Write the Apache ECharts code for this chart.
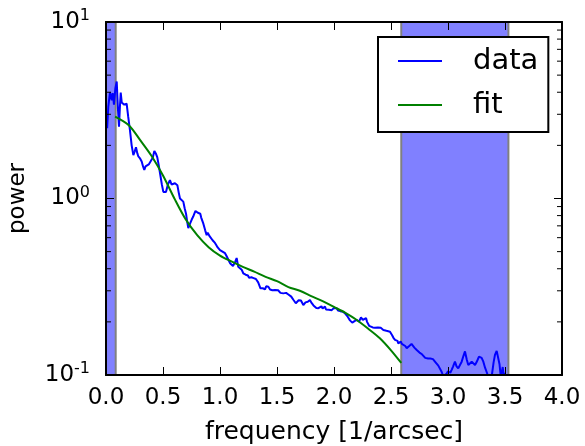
<!DOCTYPE html>
<html>
<head>
<meta charset="utf-8">
<script src="https://cdn.jsdelivr.net/npm/echarts@6/dist/echarts.min.js"></script>
<style>html,body{margin:0;padding:0;background:#fff;}#c{width:585px;height:446px;}</style>
</head>
<body>
<div id="c"></div>
<script>
// ---- data ----
var freq = [0.01,0.02,0.035,0.05,0.059,0.07,0.082,0.094,0.105,0.114,0.122,0.129,0.138,0.146,0.16,0.181,0.195,0.21,0.225,0.24,0.252,0.263,0.275,0.284,0.3,0.313,0.325,0.336,0.347,0.357,0.375,0.392,0.41,0.424,0.437,0.45,0.462,0.474,0.49,0.503,0.515,0.526,0.543,0.561,0.575,0.59,0.605,0.626,0.638,0.649,0.665,0.678,0.69,0.702,0.712,0.722,0.737,0.752,0.765,0.775,0.785,0.795,0.806,0.818,0.827,0.835,0.845,0.854,0.87,0.883,0.892,0.9,0.91,0.918,0.927,0.935,0.945,0.956,0.967,0.978,0.99,1.0,1.011,1.022,1.033,1.044,1.055,1.066,1.077,1.088,1.097,1.105,1.114,1.123,1.135,1.146,1.16,1.175,1.19,1.204,1.215,1.225,1.235,1.245,1.255,1.263,1.275,1.285,1.295,1.305,1.315,1.322,1.335,1.345,1.355,1.366,1.375,1.385,1.395,1.405,1.415,1.424,1.432,1.439,1.45,1.46,1.47,1.482,1.49,1.497,1.51,1.52,1.53,1.545,1.555,1.57,1.58,1.59,1.6,1.614,1.625,1.635,1.645,1.658,1.665,1.673,1.68,1.69,1.702,1.71,1.72,1.731,1.74,1.75,1.76,1.77,1.78,1.789,1.8,1.81,1.82,1.835,1.845,1.855,1.863,1.87,1.88,1.89,1.9,1.91,1.921,1.93,1.936,1.945,1.955,1.965,1.98,1.99,2.0,2.01,2.023,2.035,2.045,2.055,2.067,2.08,2.09,2.1,2.111,2.12,2.13,2.14,2.15,2.16,2.17,2.18,2.19,2.2,2.21,2.22,2.228,2.237,2.245,2.253,2.26,2.27,2.281,2.29,2.3,2.308,2.316,2.325,2.34,2.35,2.36,2.374,2.385,2.4,2.41,2.42,2.433,2.445,2.46,2.475,2.491,2.5,2.51,2.52,2.535,2.545,2.55,2.557,2.564,2.575,2.585,2.595,2.608,2.625,2.638,2.65,2.66,2.67,2.68,2.696,2.705,2.715,2.728,2.74,2.75,2.76,2.772,2.784,2.8,2.813,2.825,2.835,2.845,2.857,2.868,2.88,2.891,2.901,2.915,2.93,2.945,2.959,2.975,2.989,3.0,3.01,3.02,3.032,3.045,3.061,3.075,3.09,3.105,3.12,3.135,3.149,3.165,3.178,3.195,3.208,3.222,3.237,3.25,3.26,3.272,3.281,3.295,3.31,3.325,3.339,3.355,3.368,3.385,3.4,3.412,3.427,3.442,3.452,3.462,3.472,3.48,3.49,3.5];
var power = [2.5,3.3,4.0,3.6,3.95,3.4,4.2,4.6,3.2,2.55,3.3,3.98,3.5,3.54,3.4,3.45,2.9,2.44,2.0,1.76,1.85,1.95,1.8,1.73,1.68,1.62,1.52,1.45,1.52,1.55,1.56,1.58,1.7,1.86,1.8,1.71,1.55,1.39,1.2,1.09,1.07,1.09,1.2,1.27,1.2,1.19,1.22,1.19,1.08,1.0,0.98,0.96,0.88,0.82,0.74,0.68,0.72,0.76,0.79,0.82,0.85,0.86,0.83,0.81,0.82,0.78,0.76,0.72,0.66,0.62,0.64,0.63,0.61,0.62,0.6,0.58,0.575,0.56,0.545,0.53,0.525,0.51,0.515,0.5,0.495,0.49,0.475,0.46,0.445,0.43,0.435,0.42,0.415,0.41,0.44,0.46,0.41,0.40,0.395,0.377,0.385,0.37,0.362,0.366,0.355,0.353,0.358,0.35,0.354,0.348,0.35,0.345,0.335,0.33,0.31,0.303,0.31,0.312,0.306,0.318,0.31,0.316,0.308,0.305,0.298,0.302,0.296,0.303,0.297,0.296,0.302,0.298,0.292,0.296,0.29,0.296,0.292,0.29,0.286,0.284,0.278,0.275,0.266,0.26,0.255,0.25,0.258,0.265,0.272,0.264,0.258,0.249,0.254,0.258,0.262,0.26,0.266,0.266,0.258,0.252,0.248,0.245,0.24,0.236,0.239,0.244,0.24,0.245,0.238,0.244,0.244,0.235,0.232,0.238,0.234,0.228,0.233,0.238,0.24,0.236,0.239,0.232,0.235,0.23,0.233,0.228,0.226,0.222,0.219,0.214,0.21,0.204,0.2,0.198,0.196,0.202,0.2,0.205,0.206,0.201,0.205,0.212,0.215,0.205,0.2,0.206,0.21,0.2,0.195,0.19,0.188,0.192,0.186,0.189,0.185,0.184,0.186,0.183,0.185,0.181,0.18,0.182,0.178,0.179,0.176,0.172,0.168,0.163,0.158,0.16,0.162,0.156,0.151,0.153,0.155,0.15,0.148,0.146,0.142,0.144,0.146,0.149,0.15,0.148,0.143,0.14,0.138,0.136,0.134,0.133,0.131,0.13,0.125,0.122,0.124,0.126,0.124,0.127,0.123,0.12,0.118,0.116,0.113,0.111,0.104,0.098,0.097,0.102,0.105,0.104,0.103,0.107,0.112,0.119,0.112,0.109,0.114,0.119,0.128,0.136,0.122,0.114,0.116,0.119,0.116,0.114,0.118,0.122,0.127,0.13,0.125,0.119,0.11,0.104,0.097,0.096,0.1,0.118,0.13,0.137,0.136,0.115,0.099,0.104,0.111,0.097,0.103];
var fitFreq = [0.08,0.2,0.3,0.4,0.5,0.6,0.7,0.8,0.9,1.0,1.1,1.2,1.3,1.4,1.5,1.6,1.7,1.8,1.9,2.0,2.1,2.2,2.3,2.4,2.5,2.59];
var fitPower = [2.91,2.6,2.14,1.74,1.35,1.0,0.76,0.62,0.53,0.475,0.44,0.41,0.385,0.36,0.34,0.315,0.30,0.28,0.262,0.243,0.225,0.205,0.183,0.162,0.138,0.117];
var spans = [[0, 0.085], [2.59, 3.53]];
var yMinorTicks = [0.2,0.3,0.4,0.5,0.6,0.7,0.8,0.9,2,3,4,5,6,7,8,9];

var FONT = 'DejaVu Sans';
var chart = echarts.init(document.getElementById('c'), null, {renderer: 'canvas'});

function zip(a, b) { return a.map(function (v, i) { return [v, b[i]]; }); }

var axisLineStyle = {show: true, onZero: false, lineStyle: {color: '#000', width: 2}};
var tickStyle = {show: true, inside: true, length: 8, lineStyle: {color: '#000', width: 1}};

var option = {
  animation: false,
  backgroundColor: '#fff',
  grid: {left: 106, top: 22, width: 456, height: 353, containLabel: false, outerBoundsMode: 'none'},
  legend: {
    data: [{name: 'data', icon: 'rect'}, {name: 'fit', icon: 'rect'}],
    orient: 'vertical',
    left: 378, top: 37,
    padding: [7, 10, 10, 20],
    itemGap: 10,
    itemWidth: 44, itemHeight: 2,
    backgroundColor: '#fff',
    borderColor: '#000', borderWidth: 2, borderRadius: 0,
    textStyle: {fontFamily: FONT, fontSize: 29, color: '#000', lineHeight: 34, padding: [0, 0, 0, 26]}
  },
  xAxis: [{
    type: 'value', min: 0, max: 4, interval: 0.5, position: 'bottom', z: 10,
    axisLine: axisLineStyle, axisTick: tickStyle, splitLine: {show: false},
    axisLabel: {fontFamily: FONT, fontSize: 23, color: '#000', margin: 12,
      formatter: function (v) { return v.toFixed(1); }},
    name: 'frequency [1/arcsec]', nameLocation: 'middle', nameGap: 45,
    nameTextStyle: {fontFamily: FONT, fontSize: 25, color: '#000'}
  }, {
    type: 'value', min: 0, max: 4, interval: 0.5, position: 'top', z: 10,
    axisLine: axisLineStyle, axisTick: tickStyle, splitLine: {show: false},
    axisLabel: {show: false}
  }],
  yAxis: [{
    type: 'log', min: 0.1, max: 10, logBase: 10, position: 'left', z: 10,
    axisLine: axisLineStyle, axisTick: tickStyle, splitLine: {show: false},
    axisLabel: {margin: 16, color: '#000',
      formatter: function (v) {
        var e = Math.round(Math.log(v) / Math.LN10);
        return '{b|10}{s|' + e + '}';
      },
      rich: {
        b: {fontFamily: FONT, fontSize: 23, color: '#000'},
        s: {fontFamily: FONT, fontSize: 16, color: '#000', padding: [0, 0, 12, 0]}
      }
    },
    name: 'power', nameLocation: 'middle', nameGap: 76,
    nameTextStyle: {fontFamily: FONT, fontSize: 23, color: '#000'}
  }, {
    type: 'log', min: 0.1, max: 10, logBase: 10, position: 'right', z: 10,
    axisLine: axisLineStyle, axisTick: tickStyle, splitLine: {show: false},
    axisLabel: {show: false}
  }],
  series: [{
    name: 'spans', type: 'line', data: [], z: 1, silent: true,
    markArea: {
      silent: true,
      itemStyle: {color: '#8080ff', opacity: 1, borderColor: '#808080', borderWidth: 2},
      data: spans.map(function (s) { return [{xAxis: s[0]}, {xAxis: s[1]}]; })
    }
  }, {
    name: 'data', type: 'line', data: zip(freq, power), symbol: 'none', showSymbol: false, z: 3,
    lineStyle: {color: '#0000ff', width: 2}, itemStyle: {color: '#0000ff'}, clip: true
  }, {
    name: 'fit', type: 'line', data: zip(fitFreq, fitPower), symbol: 'none', showSymbol: false, z: 4, smooth: 0.3,
    lineStyle: {color: '#008000', width: 2}, itemStyle: {color: '#008000'}, clip: true
  }, {
    name: 'minorTicks', type: 'custom', z: 11, silent: true, xAxisIndex: 0, yAxisIndex: 0,
    data: yMinorTicks.map(function (v) { return [0, v]; }),
    renderItem: function (params, api) {
      var v = api.value(1);
      var l = api.coord([0, v]);
      var r = api.coord([4, v]);
      return {type: 'group', children: [
        {type: 'line', shape: {x1: l[0], y1: l[1], x2: l[0] + 5, y2: l[1]}, style: {stroke: '#000', lineWidth: 1}},
        {type: 'line', shape: {x1: r[0], y1: r[1], x2: r[0] - 5, y2: r[1]}, style: {stroke: '#000', lineWidth: 1}}
      ]};
    }
  }]
};
chart.setOption(option);
</script>
</body>
</html>
